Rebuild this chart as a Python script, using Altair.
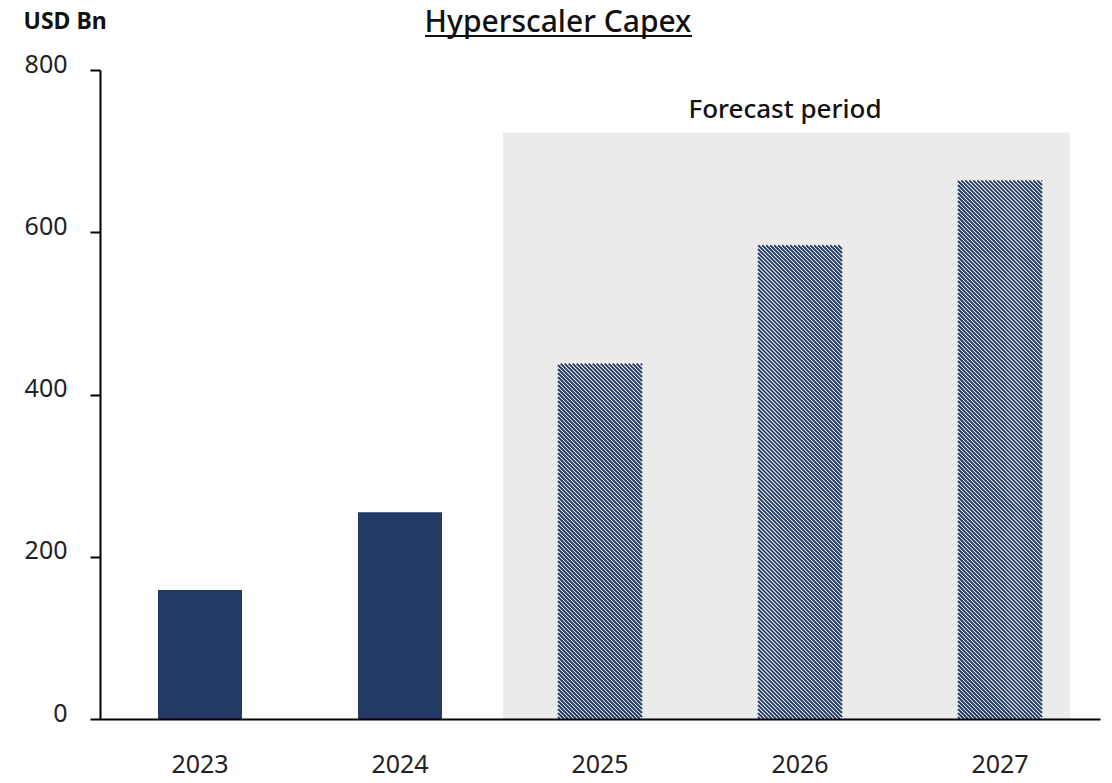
import altair as alt
import pandas as pd

# ---- data ----
years = ["2023", "2024", "2025", "2026", "2027"]
capex = [159, 255, 438, 584, 664]
is_forecast = [False, False, True, True, True]

shade_start = "2025"
shade_end = "2027"
shade_top = 723
forecast_label = "Forecast period"
forecast_label_year = "2026"
forecast_label_y = 741

y_ticks = [0, 200, 400, 600, 800]

NAVY = "#223A64"
SHADE = "#EBEBEB"
FONT = "Noto Sans"

W, H = 1000, 649
BAR_W = 84
BAND = W / len(years)
PX_PER_UNIT = H / 800.0
HATCH_STEP = 4.0  # horizontal period of the hatch, px

df = pd.DataFrame({"year": years, "capex": capex, "forecast": is_forecast})

xscale = alt.Scale(domain=years, paddingInner=0, paddingOuter=0)
yscale = alt.Scale(domain=[0, 800], nice=False)

x_axis = alt.Axis(title=None, ticks=False, labelAngle=0, labelFontSize=25,
                  labelPadding=33, labelColor="#222222", labelFont=FONT,
                  domainColor="black", domainWidth=2)
y_axis = alt.Axis(values=y_ticks, grid=False, title="USD Bn", titleAngle=0,
                  titleAlign="left", titleBaseline="alphabetic",
                  titleX=-77, titleY=-42, titleFontSize=23, titleFontWeight="bold",
                  titleFont=FONT, titleColor="#111111",
                  labelFontSize=25, labelFont=FONT, labelColor="#222222",
                  labelPadding=23, labelOffset=-6,
                  tickSize=10, tickWidth=2, tickColor="black",
                  domainColor="black", domainWidth=2)

x_enc = alt.X("year:N", scale=xscale, sort=years, axis=x_axis)
y_enc = alt.Y("capex:Q", scale=yscale, axis=y_axis)

# shaded forecast region
shade_df = pd.DataFrame({"x0": [shade_start], "x1": [shade_end], "lo": [0], "hi": [shade_top]})
shade = alt.Chart(shade_df).mark_rect(color=SHADE).encode(
    x=alt.X("x0:N", scale=xscale, bandPosition=0.015, axis=x_axis),
    x2=alt.X2("x1:N", bandPosition=0.85),
    y=alt.Y("lo:Q", scale=yscale, axis=y_axis),
    y2="hi:Q",
)

# actual bars (solid) and forecast bars (white base, hatched on top)
solid = alt.Chart(df).transform_filter("!datum.forecast").mark_bar(
    size=BAR_W, color=NAVY).encode(x=x_enc, y=y_enc)
white = alt.Chart(df).transform_filter("datum.forecast").mark_bar(
    size=BAR_W, color="white").encode(x=x_enc, y=y_enc)

# "Forecast period" label
lab_df = pd.DataFrame({"yr": [forecast_label_year], "y": [forecast_label_y], "t": [forecast_label]})
label = alt.Chart(lab_df).mark_text(fontSize=26, font=FONT, fontWeight=500, color="#111111",
                                    baseline="alphabetic", align="center").encode(
    x=alt.X("yr:N", scale=xscale, bandPosition=0.425, axis=x_axis),
    y=alt.Y("y:Q", scale=yscale, axis=y_axis),
    text="t:N",
)

base = alt.layer(shade, solid, white, label)

# hatch texture for forecast bars: 45-degree strokes clipped to each bar,
# expressed in band units (x) and USD Bn (y)
rows = []
for i, (v, f) in enumerate(zip(capex, is_forecast)):
    if not f:
        continue
    h = v * PX_PER_UNIT
    px0 = i * BAND + (BAND - BAR_W) / 2.0
    px1 = px0 + BAR_W
    c = px0 + HATCH_STEP / 2.0
    while c < px1 + h:
        xa = max(px0, c - h)
        xb = min(px1, c)
        if xb > xa:
            rows.append({
                "hx0": xa / BAND, "hx1": xb / BAND,
                "hy0": (c - xa) / PX_PER_UNIT, "hy1": (c - xb) / PX_PER_UNIT,
            })
        c += HATCH_STEP
hatch_df = pd.DataFrame(rows)
hatch = alt.Chart(hatch_df).mark_rule(color=NAVY, strokeWidth=1.9, strokeCap="butt").encode(
    x=alt.X("hx0:Q", scale=alt.Scale(domain=[0, len(years)], nice=False, zero=False), axis=None),
    x2="hx1:Q",
    y=alt.Y("hy0:Q", scale=yscale, axis=y_axis),
    y2="hy1:Q",
)

# chart title with underline
title_df = pd.DataFrame({"t": ["Hyperscaler Capex"]})
title = alt.Chart(title_df).mark_text(fontSize=30, font=FONT, fontWeight=500, color="#111111",
                                      baseline="alphabetic", align="center").encode(
    x=alt.value(458), y=alt.value(-38), text="t:N")
underline = alt.Chart(title_df).mark_rule(color="#111111", strokeWidth=2).encode(
    x=alt.value(325), x2=alt.value(592), y=alt.value(-34))

chart = alt.layer(base, hatch, title, underline).resolve_scale(x="independent").properties(
    width=W, height=H,
    autosize=alt.AutoSizeParams(type="none"),
    padding={"left": 100, "top": 70, "right": 12, "bottom": 64},
).configure(background="white").configure_view(stroke=None)

chart.save("out.html", embed_options={"renderer": "svg", "actions": False})
